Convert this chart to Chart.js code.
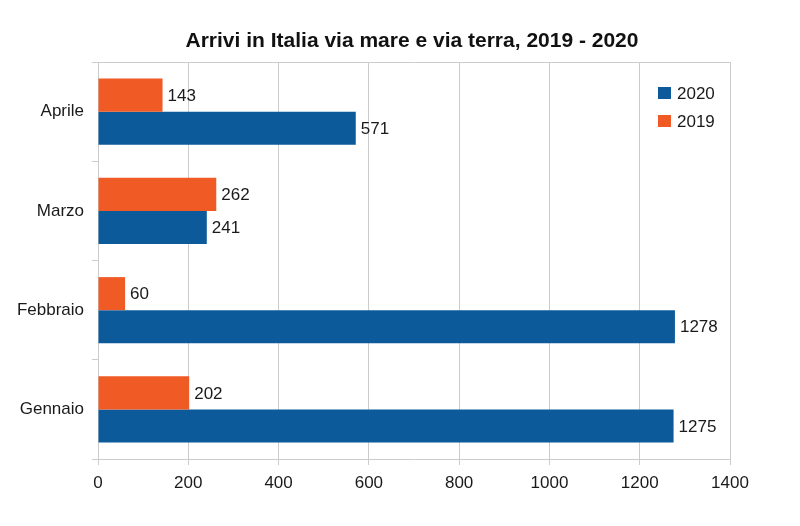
<!DOCTYPE html>
<html>
<head>
<meta charset="utf-8">
<script src="https://cdn.jsdelivr.net/npm/chart.js@4/dist/chart.umd.min.js"></script>
<style>
  body { margin: 0; background: #fff; }
  canvas { display: block; }
</style>
</head>
<body>
<canvas id="chartCanvas" width="800" height="526"></canvas>
<script>
const categories = ['Aprile', 'Marzo', 'Febbraio', 'Gennaio'];
const values2019 = [143, 262, 60, 202];
const values2020 = [571, 241, 1278, 1275];
const seriesLabels = ['2019', '2020'];
const xTickValues = [0, 200, 400, 600, 800, 1000, 1200, 1400];
const chartTitle = 'Arrivi in Italia via mare e via terra, 2019 - 2020';

const FONT = "'Liberation Sans', Arial, sans-serif";
const ORANGE = '#f05a24';
const BLUE = '#0c5a9a';
const GRID = '#cccccc';
const TEXT = '#1a1a1a';

// title drawn by hand so it can sit off-centre like the original
const titleText = {
    id: 'titleText',
    afterDraw(chart) {
        const ctx = chart.ctx;
        ctx.save();
        ctx.font = 'bold 21px ' + FONT;
        ctx.fillStyle = '#111';
        ctx.textAlign = 'center';
        ctx.textBaseline = 'middle';
        ctx.fillText(chartTitle, 412, 41);
        ctx.restore();
    }
};

// value labels at the end of each bar
const barLabels = {
    id: 'barLabels',
    afterDatasetsDraw(chart) {
        const ctx = chart.ctx;
        ctx.save();
        ctx.font = '17px ' + FONT;
        ctx.fillStyle = TEXT;
        ctx.textBaseline = 'middle';
        ctx.textAlign = 'left';
        chart.data.datasets.forEach((ds, i) => {
            chart.getDatasetMeta(i).data.forEach((bar, j) => {
                ctx.fillText(ds.data[j], bar.x + 5, bar.y + 1);
            });
        });
        ctx.restore();
    }
};

// legend drawn inside the plot, top right, 2020 first
const insideLegend = {
    id: 'insideLegend',
    afterDraw(chart) {
        const ctx = chart.ctx;
        const items = chart.data.datasets.slice().reverse();
        ctx.save();
        ctx.font = '17px ' + FONT;
        ctx.textBaseline = 'middle';
        items.forEach((ds, i) => {
            const y = 87 + i * 28;
            ctx.fillStyle = ds.backgroundColor;
            ctx.fillRect(658, y, 13, 12);
            ctx.fillStyle = TEXT;
            ctx.fillText(ds.label, 677, y + 7);
        });
        ctx.restore();
    }
};

const ctx = document.getElementById('chartCanvas').getContext('2d');
new Chart(ctx, {
    type: 'bar',
    data: {
        labels: categories,
        datasets: [
            { label: seriesLabels[0], data: values2019, backgroundColor: ORANGE },
            { label: seriesLabels[1], data: values2020, backgroundColor: BLUE }
        ]
    },
    options: {
        indexAxis: 'y',
        responsive: false,
        animation: false,
        barPercentage: 1,
        categoryPercentage: 0.665,
        layout: { padding: { left: 0, right: 70, top: 62, bottom: 0 } },
        plugins: {
            legend: { display: false },
            tooltip: { enabled: false },
            title: { display: false }
        },
        scales: {
            x: {
                min: xTickValues[0],
                max: xTickValues[xTickValues.length - 1],
                afterBuildTicks: scale => {
                    scale.ticks = xTickValues.map(v => ({ value: v }));
                },
                grid: { color: GRID, tickLength: 6 },
                border: { color: GRID },
                ticks: {
                    color: TEXT,
                    font: { family: FONT, size: 17 },
                    padding: 8,
                    callback: value => String(value)
                },
                afterFit: scale => { scale.height = 67; }
            },
            xTop: {
                position: 'top',
                min: 0,
                max: 1400,
                grid: { display: false },
                border: { color: GRID },
                ticks: { display: false },
                afterFit: scale => { scale.height = 0; }
            },
            y: {
                offset: true,
                grid: { offset: true, drawOnChartArea: false, color: GRID, tickLength: 6 },
                border: { color: GRID },
                ticks: {
                    color: TEXT,
                    font: { family: FONT, size: 17 },
                    padding: 8
                },
                afterFit: scale => { scale.width = 98; }
            }
        }
    },
    plugins: [titleText, barLabels, insideLegend]
});
</script>
</body>
</html>
